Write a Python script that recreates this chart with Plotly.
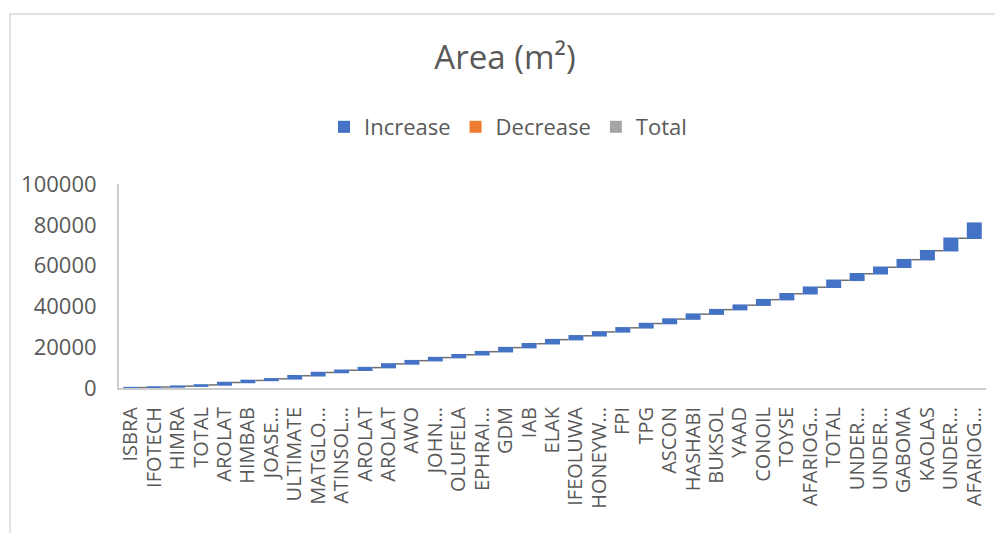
import plotly.graph_objects as go

# Site names in plotting order (duplicates are separate entries)
sites = [
    "ISBRA", "IFOTECH", "HIMRA", "TOTAL", "AROLAT", "HIMBAB", "JOASE…",
    "ULTIMATE", "MATGLO…", "ATINSOL…", "AROLAT", "AROLAT", "AWO", "JOHN…",
    "OLUFELA", "EPHRAI…", "GDM", "IAB", "ELAK", "IFEOLUWA", "HONEYW…",
    "FPI", "TPG", "ASCON", "HASHABI", "BUKSOL", "YAAD", "CONOIL", "TOYSE",
    "AFARIOG…", "TOTAL", "UNDER…", "UNDER…", "GABOMA", "KAOLAS", "UNDER…",
    "AFARIOG…",
]

# Area contributed by each site (m²)
area = [
    200, 300, 400, 600, 1200, 1000, 800, 1500, 1600, 1100, 1300, 1800,
    1600, 1500, 1400, 1500, 2000, 1900, 2000, 1900, 1900, 2000, 2100,
    2200, 2400, 2200, 2200, 2700, 2900, 3200, 3400, 3200, 3200, 3700,
    4400, 6100, 7400,
]

y_ticks = [0, 20000, 40000, 60000, 80000, 100000]

BLUE = "#4472C4"
ORANGE = "#ED7D31"
GREY = "#A5A5A5"
TEXT = "#595959"
FONT = "Open Sans"

L, R, T, B = 119, 9, 184, 145
W, H = 995, 533
PW, PH = W - L - R, H - T - B

pos = list(range(len(sites)))

fig = go.Figure()

fig.add_trace(go.Waterfall(
    x=pos,
    y=area,
    measure=["relative"] * len(area),
    width=0.64,
    increasing=dict(marker=dict(color=BLUE, line=dict(width=0))),
    decreasing=dict(marker=dict(color=ORANGE, line=dict(width=0))),
    totals=dict(marker=dict(color=GREY, line=dict(width=0))),
    connector=dict(line=dict(color="#6f6f6f", width=1.5, dash="solid")),
    showlegend=False,
    hoverinfo="x+y",
))

# Legend entries for the three waterfall categories
for name, col in [("Increase", BLUE), ("Decrease", ORANGE), ("Total", GREY)]:
    fig.add_trace(go.Scatter(
        x=[None], y=[None], mode="markers", name=name,
        marker=dict(symbol="square", size=15, color=col),
    ))

fig.update_layout(
    width=W, height=H, autosize=False,
    margin=dict(l=L, r=R, t=T, b=B, autoexpand=False),
    paper_bgcolor="white", plot_bgcolor="white",
    font=dict(family=FONT, size=21, color=TEXT),
    title=dict(
        text="Area (m²)", font=dict(family=FONT, size=33, color=TEXT),
        xref="paper", x=(505 - L) / PW, xanchor="center",
        yref="container", y=1 - 57 / H, yanchor="middle",
    ),
    legend=dict(
        orientation="h", xref="paper", x=(508 - L) / PW, xanchor="center",
        y=(H - B - 127) / PH, yanchor="middle",
        font=dict(family=FONT, size=22, color=TEXT),
        itemsizing="constant", traceorder="normal",
    ),
    xaxis=dict(
        range=[-0.5, len(sites) - 0.5],
        tickmode="array", tickvals=pos, ticktext=sites,
        tickangle=-90, showgrid=False, zeroline=False,
        showline=True, linecolor="#cccccc", linewidth=2,
        ticks="", ticklabelstandoff=9,
        tickfont=dict(family=FONT, size=20, color=TEXT),
    ),
    yaxis=dict(
        range=[0, 100000], tickmode="array", tickvals=y_ticks,
        ticktext=[str(v) for v in y_ticks],
        showgrid=False, zeroline=False,
        showline=True, linecolor="#cccccc", linewidth=2,
        ticks="", ticklabelstandoff=16,
        tickfont=dict(family=FONT, size=22, color=TEXT),
    ),
    shapes=[dict(
        type="rect", xref="paper", yref="paper",
        x0=(10 - L) / PW, x1=1.2, y0=-1.0, y1=(H - B - 14) / PH,
        line=dict(color="#d9d9d9", width=1.5), fillcolor="rgba(0,0,0,0)",
        layer="below",
    )],
)

fig.write_html("out.html")
